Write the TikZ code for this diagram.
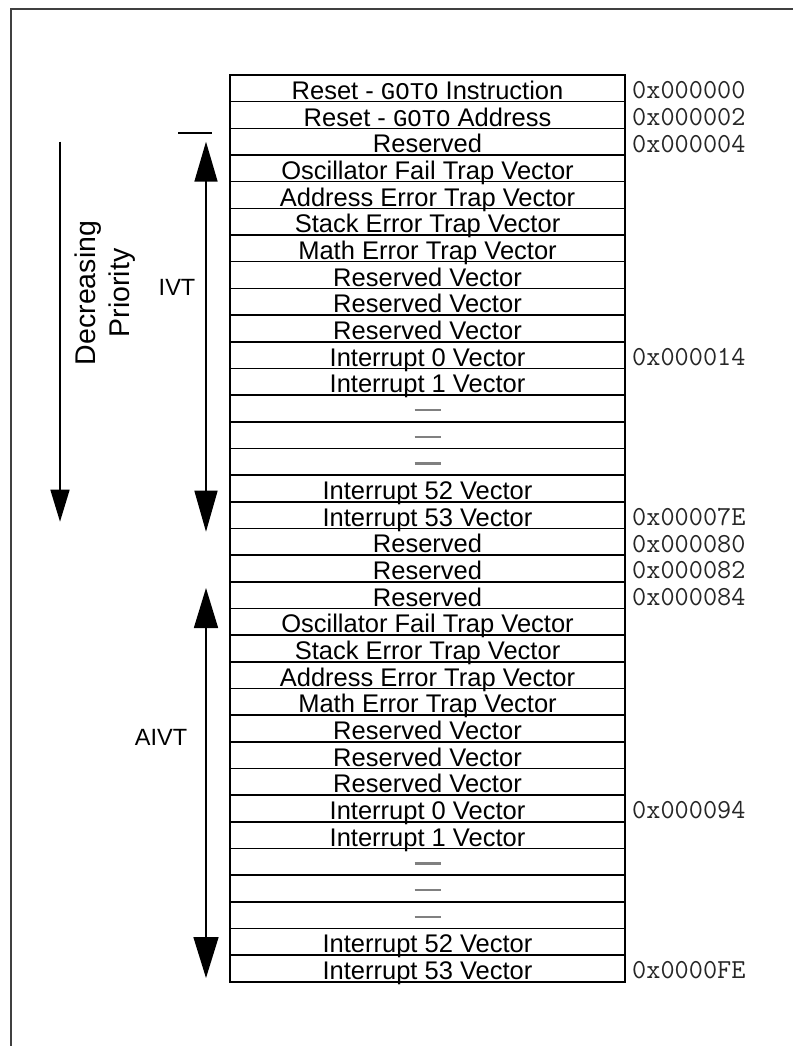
\documentclass[tikz,border=0pt]{standalone}
\usepackage{fontspec}
\setmainfont{Liberation Sans}
\newfontfamily\gotofont{Liberation Mono}
\usetikzlibrary{arrows.meta}
\newcommand{\emptymark}{\textcolor{gray}{\rule[8pt]{26pt}{2.4pt}}}
\begin{document}
\begin{tikzpicture}[x=1pt,y=-1pt,
  rowbox/.style={draw=black, line width=1.6pt, minimum width=395pt, minimum height=26.67pt,
    inner sep=0pt, text height=22pt, text depth=0pt, font=\fontsize{25.5}{29}\selectfont},
  addr/.style={anchor=west, inner sep=0pt, text=black!85, font=\ttfamily\fontsize{27.5}{30}\selectfont},
  side/.style={inner sep=0pt, font=\fontsize{23.5}{27}\selectfont},
  shaft/.style={line width=1.6pt},
  frame/.style={line width=2pt, draw=black!75}]
\useasboundingbox (0,0) rectangle (793,1046);
\fill[white] (0,0) rectangle (793,1046);
% outer frame (cropped)
\coordinate (fbl) at (11,1046);
\coordinate (ftl) at (11,9);
\coordinate (ftr) at (793,9);
\draw[frame] (fbl) -- (ftl) -- (ftr);
% memory rows
\foreach \t [count=\i] in {
  {Reset - {\gotofont\fontsize{24}{26}\selectfont GOTO} Instruction},
  {Reset - {\gotofont\fontsize{24}{26}\selectfont GOTO} Address},
  {Reserved},
  {Oscillator Fail Trap Vector},
  {Address Error Trap Vector},
  {Stack Error Trap Vector},
  {Math Error Trap Vector},
  {Reserved Vector},
  {Reserved Vector},
  {Reserved Vector},
  {Interrupt 0 Vector},
  {Interrupt 1 Vector},
  {\emptymark},
  {\emptymark},
  {\emptymark},
  {Interrupt 52 Vector},
  {Interrupt 53 Vector},
  {Reserved},
  {Reserved},
  {Reserved},
  {Oscillator Fail Trap Vector},
  {Stack Error Trap Vector},
  {Address Error Trap Vector},
  {Math Error Trap Vector},
  {Reserved Vector},
  {Reserved Vector},
  {Reserved Vector},
  {Interrupt 0 Vector},
  {Interrupt 1 Vector},
  {\emptymark},
  {\emptymark},
  {\emptymark},
  {Interrupt 52 Vector},
  {Interrupt 53 Vector}}
{
  \node[rowbox] (r\i) at ({427.5},{75+(\i-0.5)*26.67}) {\t};
}
% addresses
\foreach \i/\a in {1/0x000000, 2/0x000002, 3/0x000004, 11/0x000014, 17/0x00007E,
                   18/0x000080, 19/0x000082, 20/0x000084, 28/0x000094, 34/0x0000FE}
{
  \node[addr] (a\i) at ({632},{75+(\i-0.5)*26.67+2}) {\a};
}
% Decreasing priority arrow
\coordinate (dpTop) at (60,141.7);
\coordinate (dpBot) at (60,521.7);
\draw[shaft, -{Triangle[width=19pt,length=32pt]}] (dpTop) -- (dpBot);
\node[inner sep=0pt, rotate=90, align=center, font=\fontsize{28.5}{34}\selectfont] (dp) at (105,293) {Decreasing\\Priority};
% IVT arrow
\coordinate (ivtBarL) at (178,133);
\coordinate (ivtBarR) at (212,133);
\draw[line width=1.6pt] (ivtBarL) -- (ivtBarR);
\coordinate (ivtTop) at (206,141.7);
\coordinate (ivtBot) at (206,531.7);
\draw[shaft, {Triangle[width=23pt,length=40pt]}-{Triangle[width=23pt,length=41pt]}] (ivtTop) -- (ivtBot);
\node[side] (ivt) at (177,287) {IVT};
% AIVT arrow
\coordinate (aivtTop) at (206,588);
\coordinate (aivtBot) at (206,978);
\draw[shaft, {Triangle[width=24pt,length=40pt]}-{Triangle[width=25pt,length=41pt]}] (aivtTop) -- (aivtBot);
\node[side] (aivt) at (161,737) {AIVT};
\end{tikzpicture}
\end{document}
